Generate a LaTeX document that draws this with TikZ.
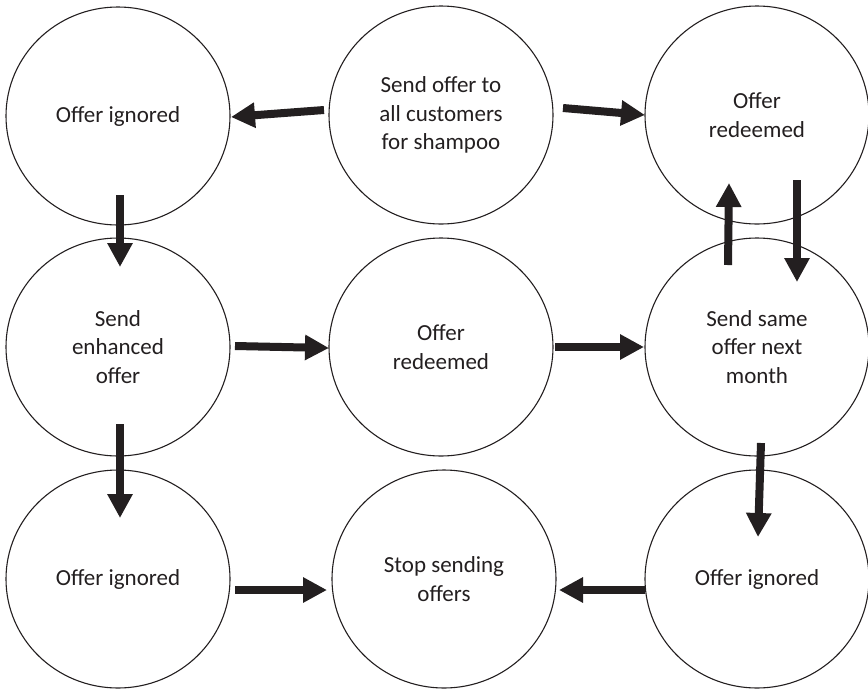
\documentclass[tikz,border=0pt]{standalone}
\usepackage{fontspec}
\setmainfont{Carlito}
\usetikzlibrary{arrows.meta,shapes.geometric}
\definecolor{ink}{HTML}{231F20}
\begin{document}
\begin{tikzpicture}[x=1pt,y=-1pt,
  state/.style={draw=ink,line width=1.1pt,ellipse,minimum width=224pt,minimum height=218pt,inner sep=0pt,
    align=center,text=ink,font=\fontsize{23pt}{28.5pt}\selectfont},
  arr/.style={draw=ink,line width=8pt,-{Triangle[length=24pt,width=24pt]}}]
\useasboundingbox (0,0) rectangle (868,689);
\node[state] (tl) at (118,116) {Offer ignored};
\node[state] (tm) at (441,115) {Send offer to\\all customers\\for shampoo};
\node[state] (tr) at (757,115) {Offer\\redeemed};
\node[state] (ml) at (118,347) {Send\\enhanced\\offer};
\node[state] (mm) at (441,347) {Offer\\redeemed};
\node[state] (mr) at (757,347) {Send same\\offer next\\month};
\node[state] (bl) at (118,579) {Offer ignored};
\node[state] (bm) at (444,579) {Stop sending\\offers};
\node[state] (br) at (757,579) {Offer ignored};

\draw[arr] ([shift={(-117,-5)}]tm.center) -- ([shift={(113,1)}]tl.center);
\draw[arr] ([shift={(122,-7)}]tm.center) -- ([shift={(-112,0)}]tr.center);
\draw[arr] ([shift={(2,79)}]tl.center) -- ([shift={(2,-80)}]ml.center);
\draw[arr] ([shift={(2,77)}]ml.center) -- ([shift={(2,-61)}]bl.center);
\draw[arr] ([shift={(117,-1)}]ml.center) -- ([shift={(-112,1)}]mm.center);
\draw[arr] ([shift={(114,0)}]mm.center) -- ([shift={(-113,0)}]mr.center);
\draw[arr] ([shift={(-29,-82)}]mr.center) -- ([shift={(-28,68)}]tr.center);
\draw[arr] ([shift={(40,65)}]tr.center) -- ([shift={(40,-65)}]mr.center);
\draw[arr] ([shift={(4,96)}]mr.center) -- ([shift={(1,-42)}]br.center);
\draw[arr] ([shift={(117,11)}]bl.center) -- ([shift={(-117,11)}]bm.center);
\draw[arr] ([shift={(-112,11)}]br.center) -- ([shift={(115,11)}]bm.center);
\end{tikzpicture}
\end{document}
